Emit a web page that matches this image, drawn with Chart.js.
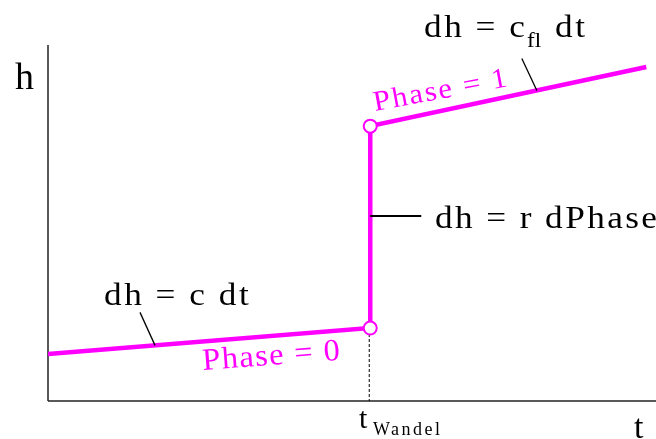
<!DOCTYPE html>
<html>
<head>
<meta charset="utf-8">
<script src="https://cdn.jsdelivr.net/npm/chart.js@4.4.1/dist/chart.umd.min.js"></script>
<style>
  html, body { margin: 0; padding: 0; background: #fff; }
  canvas { display: block; }
</style>
</head>
<body>
<canvas id="chart" width="656" height="439"></canvas>
<script>
// phase curve h(t): low branch, jump at t_Wandel, high branch
const tValues = [0, 5.3, 5.3, 9.84];
const hValues = [1.32, 2.05, 7.72, 9.38];
const tWandel = 5.3;
// where the leader lines touch the curve
const leaderLowT = 1.76;
const leaderHighT = 8.04;
const leaderJumpH = 5.2;

const magenta = "#FF00FF";
const serif = '"Liberation Serif", "Times New Roman", serif';

function drawText(ctx, s, x, y, size, o) {
  o = o || {};
  ctx.save();
  ctx.translate(x, y);
  if (o.rot) ctx.rotate(o.rot * Math.PI / 180);
  ctx.scale(o.sx || 1, 1);
  ctx.font = size + "px " + serif;
  ctx.fillStyle = o.color || "#000";
  ctx.letterSpacing = (o.ls || 0) + "px";
  ctx.textAlign = "left";
  ctx.textBaseline = "alphabetic";
  ctx.fillText(s, 0, 0);
  ctx.restore();
}

function line(ctx, x1, y1, x2, y2, w, color, dash) {
  ctx.save();
  ctx.strokeStyle = color;
  ctx.lineWidth = w;
  ctx.setLineDash(dash || []);
  ctx.beginPath();
  ctx.moveTo(x1, y1);
  ctx.lineTo(x2, y2);
  ctx.stroke();
  ctx.restore();
}

// h on a straight branch between two data points
function hAt(t, i) {
  const f = (t - tValues[i]) / (tValues[i + 1] - tValues[i]);
  return hValues[i] + f * (hValues[i + 1] - hValues[i]);
}

const axesPlugin = {
  id: "axes",
  beforeDatasetsDraw(chart) {
    const ctx = chart.ctx, a = chart.chartArea;
    line(ctx, a.left, a.top, a.left, a.bottom, 1.5, "#222");
    line(ctx, a.left, a.bottom, a.right, a.bottom, 1.5, "#222");
    const x = chart.scales.x.getPixelForValue(tWandel);
    const y = chart.scales.y.getPixelForValue(hValues[1]);
    line(ctx, x - 1, y + 6, x - 1, a.bottom, 1, "#000", [3, 2]);
  },
  afterDatasetsDraw(chart) {
    const ctx = chart.ctx, xs = chart.scales.x, ys = chart.scales.y;

    // leader lines
    let px = xs.getPixelForValue(leaderLowT), py = ys.getPixelForValue(hAt(leaderLowT, 0));
    line(ctx, px - 15, py - 33, px, py, 1.3, "#000");
    px = xs.getPixelForValue(leaderHighT); py = ys.getPixelForValue(hAt(leaderHighT, 2));
    line(ctx, px - 15, py - 32, px, py, 1.3, "#000");
    px = xs.getPixelForValue(tWandel); py = ys.getPixelForValue(leaderJumpH);
    line(ctx, px, py, px + 51, py, 2, "#000");

    // labels
    drawText(ctx, "h", 15, 89, 38);
    drawText(ctx, "t", 634, 438, 34);
    drawText(ctx, "t", 359, 428, 30);
    drawText(ctx, "Wandel", 373, 435, 18, { ls: 2.5 });
    drawText(ctx, "dh = c dt", 104, 305, 32, { sx: 1.1, ls: 2.3 });
    drawText(ctx, "dh = c", 424, 37, 32, { sx: 1.1, ls: 2.3 });
    drawText(ctx, "fl", 527, 47, 21, { sx: 1.1 });
    drawText(ctx, "dt", 555, 37, 32, { sx: 1.1, ls: 2.3 });
    drawText(ctx, "dh = r dPhase", 435, 228, 32, { sx: 1.1, ls: 2.2 });
    drawText(ctx, "Phase = 0", 203, 370, 31, { sx: 1.05, ls: 1.3, rot: -4.3, color: magenta });
    drawText(ctx, "Phase = 1", 375, 111, 28.5, { sx: 1.08, ls: 1.8, rot: -10.5, color: magenta });
  }
};

new Chart(document.getElementById("chart"), {
  type: "scatter",
  data: {
    datasets: [{
      data: tValues.map((t, i) => ({ x: t, y: hValues[i] })),
      showLine: true,
      borderColor: magenta,
      borderWidth: 4.5,
      pointRadius: [0, 6.5, 6.5, 0],
      pointBackgroundColor: "#fff",
      pointBorderColor: magenta,
      pointBorderWidth: 2
    }]
  },
  options: {
    responsive: false,
    animation: false,
    devicePixelRatio: 1,
    layout: { padding: { left: 48, top: 45, right: 0, bottom: 38 } },
    scales: {
      x: { type: "linear", min: 0, max: 10, display: false },
      y: { type: "linear", min: 0, max: 10, display: false }
    },
    plugins: { legend: { display: false }, tooltip: { enabled: false } }
  },
  plugins: [axesPlugin]
});
</script>
</body>
</html>
